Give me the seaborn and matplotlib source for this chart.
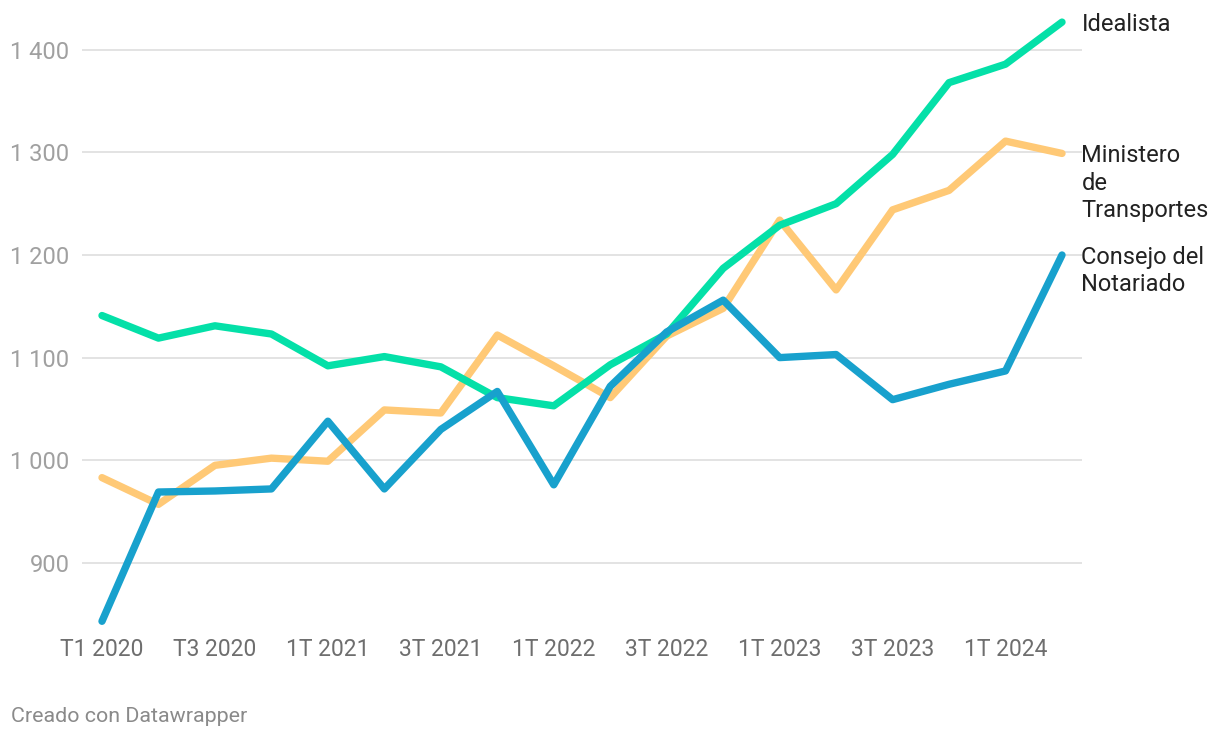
import matplotlib
matplotlib.use("Agg")
import matplotlib.pyplot as plt
import seaborn as sns
import pandas as pd

quarters = ["T1 2020", "T2 2020", "T3 2020", "T4 2020", "1T 2021", "2T 2021", "3T 2021", "4T 2021",
            "1T 2022", "2T 2022", "3T 2022", "4T 2022", "1T 2023", "2T 2023", "3T 2023", "4T 2023",
            "1T 2024", "2T 2024"]
idealista = [1141, 1119, 1131, 1123, 1092, 1101, 1091, 1061, 1053, 1093, 1123, 1187, 1229, 1250, 1298, 1368, 1386, 1427]
ministerio = [983, 957, 995, 1002, 999, 1049, 1046, 1122, 1092, 1061, 1121, 1148, 1234, 1166, 1244, 1263, 1311, 1299]
consejo = [843, 969, 970, 972, 1038, 972, 1030, 1067, 976, 1072, 1125, 1156, 1100, 1103, 1059, 1074, 1087, 1200]
series_names = ["Ministero\nde\nTransportes", "Idealista", "Consejo del\nNotariado"]
series_values = [ministerio, idealista, consejo]
colors = ["#ffc976", "#04e0a8", "#18a1cd"]
yticks = [900, 1000, 1100, 1200, 1300, 1400]
ytick_labels = ["900", "1 000", "1 100", "1 200", "1 300", "1 400"]
xtick_pos = list(range(0, 18, 2))

rows = []
for name, vals in zip(series_names, series_values):
    for i, v in enumerate(vals):
        rows.append({"x": i, "value": v, "serie": name})
df = pd.DataFrame(rows)

sns.set_theme(style="white")
plt.rcParams['font.family'] = ['Roboto', 'DejaVu Sans']

fig = plt.figure(figsize=(12.2, 7.38), dpi=100)
ax = fig.add_axes([82/1220, 1-630/738, 1000/1220, 620/738])

sns.lineplot(data=df, x="x", y="value", hue="serie", hue_order=series_names,
             palette=colors, linewidth=5.3, legend=False, ax=ax,
             solid_capstyle="round", solid_joinstyle="round")

ax.set_xlim(-0.354, 17.354)
ax.set_ylim(834.5, 1438.8)
ax.set_yticks(yticks)
ax.set_yticklabels(ytick_labels)
ax.set_xticks(xtick_pos)
ax.set_xticklabels([quarters[i] for i in xtick_pos])
ax.tick_params(axis="y", length=0, pad=9, labelsize=17, labelcolor="#a0a0a0")
ax.tick_params(axis="x", length=0, pad=6, labelsize=16.5, labelcolor="#6e6e6e")
ax.grid(axis="y", color="#e3e3e3", linewidth=1.4)
ax.grid(axis="x", visible=False)
for s in ax.spines.values():
    s.set_visible(False)
ax.set_xlabel("")
ax.set_ylabel("")

for name, vals, c in zip(series_names, series_values, colors):
    ax.annotate(name, xy=(17, vals[-1]), xytext=(14, 6.5), textcoords="offset points",
                ha="left", va="top", fontsize=17, color="#222222", linespacing=1.25,
                annotation_clip=False)

fig.text(11/1220, 1-722.3/738, "Creado con Datawrapper", ha="left", va="baseline",
         fontsize=15.4, color="#8a8a8a")

fig.savefig("out.png", dpi=100)
